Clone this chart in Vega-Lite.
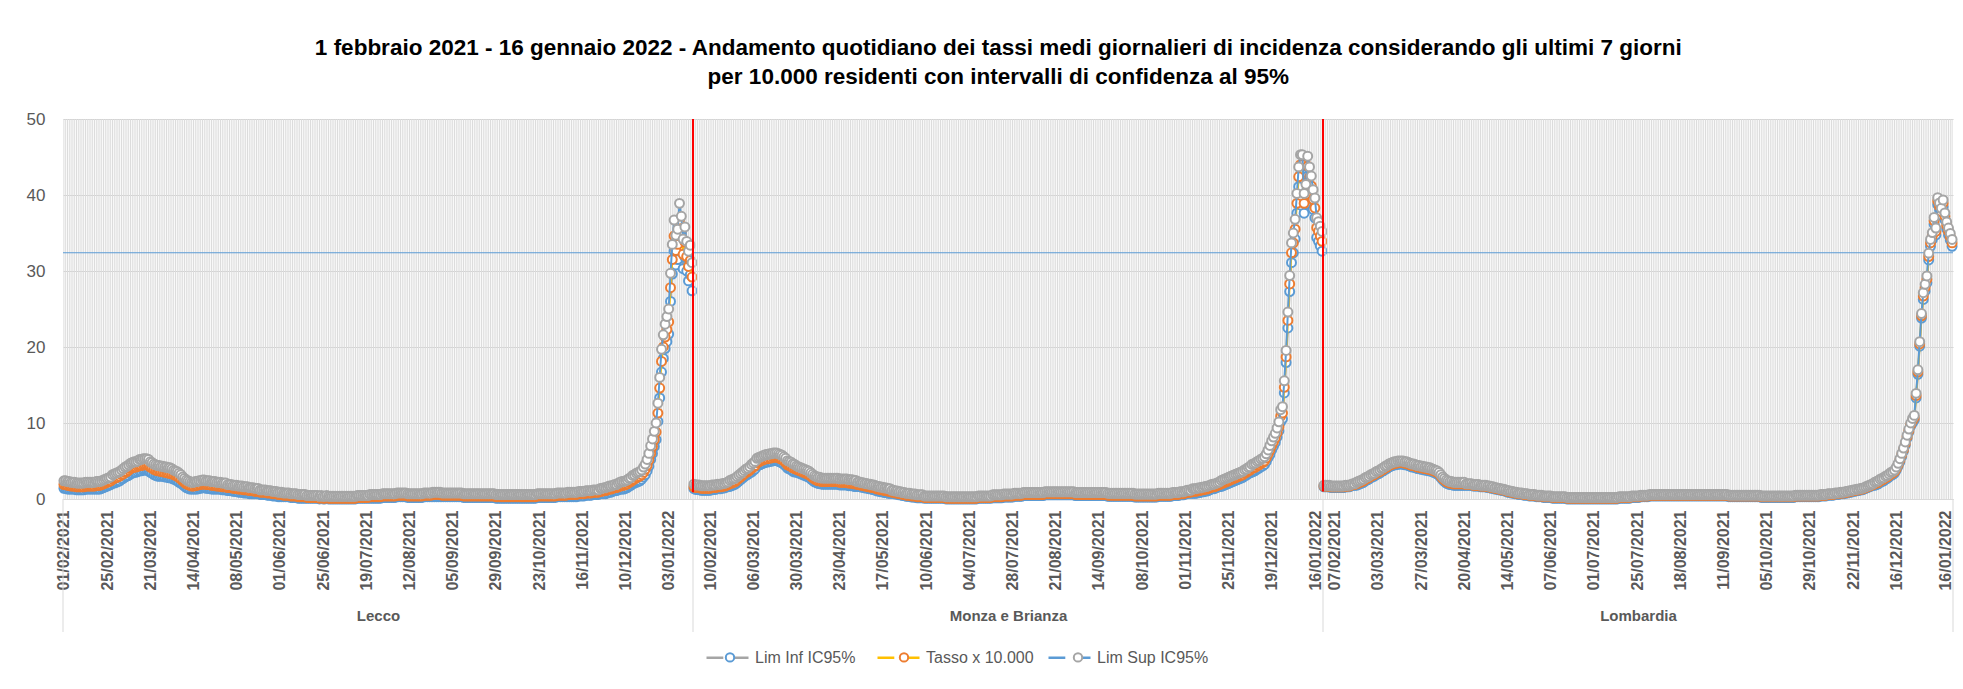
{
"$schema":"https://vega.github.io/schema/vega-lite/v6.json",
"padding":{"left":26,"top":36,"right":5,"bottom":5},
"background":"#ffffff",
"title":{"text":["1 febbraio 2021 - 16 gennaio 2022 - Andamento quotidiano dei tassi medi giornalieri di incidenza considerando gli ultimi 7 giorni","per 10.000 residenti con intervalli di confidenza al 95%"],"font":"Liberation Sans","fontSize":22.5,"fontWeight":"bold","color":"#000000","lineHeight":29,"anchor":"middle","offset":22,"dx":5},
"spacing":0,
"bounds":"flush",
"datasets":{
"lecco":[{"n":1,"l":1.4,"v":1.9,"h":2.4},{"n":2,"l":1.4,"v":1.9,"h":2.4},{"n":3,"l":1.3,"v":1.8,"h":2.3},{"n":4,"l":1.3,"v":1.8,"h":2.3},{"n":5,"l":1.3,"v":1.7,"h":2.2},{"n":6,"l":1.3,"v":1.7,"h":2.2},{"n":7,"l":1.3,"v":1.7,"h":2.2},{"n":8,"l":1.2,"v":1.6,"h":2.1},{"n":9,"l":1.2,"v":1.6,"h":2.1},{"n":10,"l":1.2,"v":1.6,"h":2.1},{"n":11,"l":1.2,"v":1.6,"h":2.1},{"n":12,"l":1.2,"v":1.6,"h":2.1},{"n":13,"l":1.3,"v":1.7,"h":2.2},{"n":14,"l":1.3,"v":1.7,"h":2.2},{"n":15,"l":1.3,"v":1.7,"h":2.2},{"n":16,"l":1.3,"v":1.7,"h":2.2},{"n":17,"l":1.3,"v":1.7,"h":2.2},{"n":18,"l":1.3,"v":1.7,"h":2.2},{"n":19,"l":1.3,"v":1.8,"h":2.3},{"n":20,"l":1.3,"v":1.8,"h":2.3},{"n":21,"l":1.3,"v":1.8,"h":2.3},{"n":22,"l":1.4,"v":1.9,"h":2.4},{"n":23,"l":1.5,"v":2.0,"h":2.5},{"n":24,"l":1.6,"v":2.1,"h":2.6},{"n":25,"l":1.7,"v":2.2,"h":2.7},{"n":26,"l":1.8,"v":2.3,"h":2.8},{"n":27,"l":1.9,"v":2.4,"h":2.9},{"n":28,"l":2.1,"v":2.6,"h":3.2},{"n":29,"l":2.1,"v":2.7,"h":3.3},{"n":30,"l":2.2,"v":2.8,"h":3.4},{"n":31,"l":2.3,"v":2.9,"h":3.5},{"n":32,"l":2.4,"v":3.0,"h":3.6},{"n":33,"l":2.6,"v":3.2,"h":3.8},{"n":34,"l":2.7,"v":3.3,"h":4.0},{"n":35,"l":2.9,"v":3.5,"h":4.2},{"n":36,"l":3.0,"v":3.6,"h":4.3},{"n":37,"l":3.1,"v":3.8,"h":4.5},{"n":38,"l":3.3,"v":4.0,"h":4.7},{"n":39,"l":3.4,"v":4.1,"h":4.8},{"n":40,"l":3.5,"v":4.2,"h":4.9},{"n":41,"l":3.5,"v":4.2,"h":4.9},{"n":42,"l":3.6,"v":4.3,"h":5.0},{"n":43,"l":3.7,"v":4.4,"h":5.2},{"n":44,"l":3.7,"v":4.4,"h":5.2},{"n":45,"l":3.8,"v":4.5,"h":5.3},{"n":46,"l":3.8,"v":4.5,"h":5.3},{"n":47,"l":3.8,"v":4.5,"h":5.3},{"n":48,"l":3.7,"v":4.4,"h":5.2},{"n":49,"l":3.5,"v":4.2,"h":4.9},{"n":50,"l":3.4,"v":4.1,"h":4.8},{"n":51,"l":3.2,"v":3.9,"h":4.6},{"n":52,"l":3.1,"v":3.8,"h":4.5},{"n":53,"l":3.0,"v":3.7,"h":4.4},{"n":54,"l":3.0,"v":3.7,"h":4.4},{"n":55,"l":3.0,"v":3.6,"h":4.3},{"n":56,"l":3.0,"v":3.6,"h":4.3},{"n":57,"l":2.9,"v":3.5,"h":4.2},{"n":58,"l":2.9,"v":3.5,"h":4.2},{"n":59,"l":2.8,"v":3.4,"h":4.1},{"n":60,"l":2.8,"v":3.4,"h":4.1},{"n":61,"l":2.7,"v":3.3,"h":4.0},{"n":62,"l":2.6,"v":3.2,"h":3.8},{"n":63,"l":2.5,"v":3.1,"h":3.7},{"n":64,"l":2.4,"v":3.0,"h":3.6},{"n":65,"l":2.2,"v":2.8,"h":3.4},{"n":66,"l":2.1,"v":2.6,"h":3.2},{"n":67,"l":1.9,"v":2.4,"h":2.9},{"n":68,"l":1.7,"v":2.2,"h":2.7},{"n":69,"l":1.5,"v":2.0,"h":2.5},{"n":70,"l":1.4,"v":1.9,"h":2.4},{"n":71,"l":1.3,"v":1.8,"h":2.3},{"n":72,"l":1.3,"v":1.7,"h":2.2},{"n":73,"l":1.3,"v":1.7,"h":2.2},{"n":74,"l":1.3,"v":1.8,"h":2.3},{"n":75,"l":1.3,"v":1.8,"h":2.3},{"n":76,"l":1.4,"v":1.9,"h":2.4},{"n":77,"l":1.4,"v":1.9,"h":2.4},{"n":78,"l":1.5,"v":2.0,"h":2.5},{"n":79,"l":1.5,"v":2.0,"h":2.5},{"n":80,"l":1.4,"v":1.9,"h":2.4},{"n":81,"l":1.4,"v":1.9,"h":2.4},{"n":82,"l":1.4,"v":1.9,"h":2.4},{"n":83,"l":1.3,"v":1.8,"h":2.3},{"n":84,"l":1.3,"v":1.8,"h":2.3},{"n":85,"l":1.3,"v":1.8,"h":2.3},{"n":86,"l":1.3,"v":1.7,"h":2.2},{"n":87,"l":1.3,"v":1.7,"h":2.2},{"n":88,"l":1.3,"v":1.7,"h":2.2},{"n":89,"l":1.2,"v":1.6,"h":2.1},{"n":90,"l":1.2,"v":1.6,"h":2.1},{"n":91,"l":1.2,"v":1.6,"h":2.1},{"n":92,"l":1.1,"v":1.5,"h":1.9},{"n":93,"l":1.1,"v":1.5,"h":1.9},{"n":94,"l":1.1,"v":1.5,"h":1.9},{"n":95,"l":1.0,"v":1.4,"h":1.8},{"n":96,"l":1.0,"v":1.4,"h":1.8},{"n":97,"l":1.0,"v":1.4,"h":1.8},{"n":98,"l":0.9,"v":1.3,"h":1.7},{"n":99,"l":0.9,"v":1.3,"h":1.7},{"n":100,"l":0.9,"v":1.3,"h":1.7},{"n":101,"l":0.8,"v":1.2,"h":1.6},{"n":102,"l":0.8,"v":1.2,"h":1.6},{"n":103,"l":0.8,"v":1.2,"h":1.6},{"n":104,"l":0.7,"v":1.1,"h":1.5},{"n":105,"l":0.7,"v":1.1,"h":1.5},{"n":106,"l":0.7,"v":1.1,"h":1.5},{"n":107,"l":0.7,"v":1.0,"h":1.4},{"n":108,"l":0.7,"v":1.0,"h":1.4},{"n":109,"l":0.7,"v":1.0,"h":1.4},{"n":110,"l":0.6,"v":0.9,"h":1.2},{"n":111,"l":0.6,"v":0.9,"h":1.2},{"n":112,"l":0.6,"v":0.9,"h":1.2},{"n":113,"l":0.6,"v":0.9,"h":1.2},{"n":114,"l":0.5,"v":0.8,"h":1.1},{"n":115,"l":0.5,"v":0.8,"h":1.1},{"n":116,"l":0.5,"v":0.8,"h":1.1},{"n":117,"l":0.4,"v":0.7,"h":1.0},{"n":118,"l":0.4,"v":0.7,"h":1.0},{"n":119,"l":0.4,"v":0.7,"h":1.0},{"n":120,"l":0.3,"v":0.6,"h":0.9},{"n":121,"l":0.3,"v":0.6,"h":0.9},{"n":122,"l":0.3,"v":0.6,"h":0.9},{"n":123,"l":0.3,"v":0.5,"h":0.8},{"n":124,"l":0.3,"v":0.5,"h":0.8},{"n":125,"l":0.3,"v":0.5,"h":0.8},{"n":126,"l":0.3,"v":0.5,"h":0.8},{"n":127,"l":0.2,"v":0.4,"h":0.7},{"n":128,"l":0.2,"v":0.4,"h":0.7},{"n":129,"l":0.2,"v":0.4,"h":0.7},{"n":130,"l":0.2,"v":0.4,"h":0.7},{"n":131,"l":0.1,"v":0.3,"h":0.6},{"n":132,"l":0.1,"v":0.3,"h":0.6},{"n":133,"l":0.1,"v":0.3,"h":0.6},{"n":134,"l":0.1,"v":0.3,"h":0.6},{"n":135,"l":0.1,"v":0.3,"h":0.6},{"n":136,"l":0.1,"v":0.2,"h":0.45},{"n":137,"l":0.1,"v":0.2,"h":0.45},{"n":138,"l":0.1,"v":0.2,"h":0.45},{"n":139,"l":0.1,"v":0.2,"h":0.45},{"n":140,"l":0.1,"v":0.2,"h":0.45},{"n":141,"l":0.1,"v":0.2,"h":0.45},{"n":142,"l":0.1,"v":0.2,"h":0.45},{"n":143,"l":0.0,"v":0.1,"h":0.35},{"n":144,"l":0.1,"v":0.2,"h":0.45},{"n":145,"l":0.0,"v":0.1,"h":0.35},{"n":146,"l":0.0,"v":0.1,"h":0.35},{"n":147,"l":0.1,"v":0.2,"h":0.45},{"n":148,"l":0.0,"v":0.1,"h":0.35},{"n":149,"l":0.0,"v":0.1,"h":0.35},{"n":150,"l":0.0,"v":0.1,"h":0.35},{"n":151,"l":0.0,"v":0.1,"h":0.35},{"n":152,"l":0.0,"v":0.1,"h":0.35},{"n":153,"l":0.0,"v":0.1,"h":0.35},{"n":154,"l":0.0,"v":0.1,"h":0.35},{"n":155,"l":0.0,"v":0.1,"h":0.35},{"n":156,"l":0.0,"v":0.1,"h":0.35},{"n":157,"l":0.0,"v":0.1,"h":0.35},{"n":158,"l":0.0,"v":0.1,"h":0.35},{"n":159,"l":0.0,"v":0.1,"h":0.35},{"n":160,"l":0.0,"v":0.1,"h":0.35},{"n":161,"l":0.0,"v":0.1,"h":0.35},{"n":162,"l":0.0,"v":0.1,"h":0.35},{"n":163,"l":0.0,"v":0.1,"h":0.35},{"n":164,"l":0.1,"v":0.2,"h":0.45},{"n":165,"l":0.1,"v":0.2,"h":0.45},{"n":166,"l":0.1,"v":0.2,"h":0.45},{"n":167,"l":0.1,"v":0.2,"h":0.45},{"n":168,"l":0.1,"v":0.2,"h":0.45},{"n":169,"l":0.1,"v":0.2,"h":0.45},{"n":170,"l":0.1,"v":0.2,"h":0.45},{"n":171,"l":0.1,"v":0.3,"h":0.6},{"n":172,"l":0.1,"v":0.3,"h":0.6},{"n":173,"l":0.1,"v":0.3,"h":0.6},{"n":174,"l":0.1,"v":0.3,"h":0.6},{"n":175,"l":0.1,"v":0.3,"h":0.6},{"n":176,"l":0.1,"v":0.3,"h":0.6},{"n":177,"l":0.1,"v":0.3,"h":0.6},{"n":178,"l":0.2,"v":0.4,"h":0.7},{"n":179,"l":0.2,"v":0.4,"h":0.7},{"n":180,"l":0.2,"v":0.4,"h":0.7},{"n":181,"l":0.2,"v":0.4,"h":0.7},{"n":182,"l":0.2,"v":0.4,"h":0.7},{"n":183,"l":0.2,"v":0.4,"h":0.7},{"n":184,"l":0.2,"v":0.4,"h":0.7},{"n":185,"l":0.2,"v":0.4,"h":0.7},{"n":186,"l":0.3,"v":0.5,"h":0.8},{"n":187,"l":0.3,"v":0.5,"h":0.8},{"n":188,"l":0.3,"v":0.5,"h":0.8},{"n":189,"l":0.3,"v":0.5,"h":0.8},{"n":190,"l":0.3,"v":0.5,"h":0.8},{"n":191,"l":0.3,"v":0.5,"h":0.8},{"n":192,"l":0.2,"v":0.4,"h":0.7},{"n":193,"l":0.2,"v":0.4,"h":0.7},{"n":194,"l":0.2,"v":0.4,"h":0.7},{"n":195,"l":0.2,"v":0.4,"h":0.7},{"n":196,"l":0.2,"v":0.4,"h":0.7},{"n":197,"l":0.2,"v":0.4,"h":0.7},{"n":198,"l":0.2,"v":0.4,"h":0.7},{"n":199,"l":0.2,"v":0.4,"h":0.7},{"n":200,"l":0.2,"v":0.4,"h":0.7},{"n":201,"l":0.3,"v":0.5,"h":0.8},{"n":202,"l":0.3,"v":0.5,"h":0.8},{"n":203,"l":0.3,"v":0.5,"h":0.8},{"n":204,"l":0.3,"v":0.5,"h":0.8},{"n":205,"l":0.3,"v":0.5,"h":0.8},{"n":206,"l":0.3,"v":0.6,"h":0.9},{"n":207,"l":0.3,"v":0.6,"h":0.9},{"n":208,"l":0.3,"v":0.6,"h":0.9},{"n":209,"l":0.3,"v":0.6,"h":0.9},{"n":210,"l":0.3,"v":0.6,"h":0.9},{"n":211,"l":0.3,"v":0.5,"h":0.8},{"n":212,"l":0.3,"v":0.5,"h":0.8},{"n":213,"l":0.3,"v":0.5,"h":0.8},{"n":214,"l":0.3,"v":0.5,"h":0.8},{"n":215,"l":0.3,"v":0.5,"h":0.8},{"n":216,"l":0.3,"v":0.5,"h":0.8},{"n":217,"l":0.3,"v":0.5,"h":0.8},{"n":218,"l":0.3,"v":0.5,"h":0.8},{"n":219,"l":0.3,"v":0.5,"h":0.8},{"n":220,"l":0.3,"v":0.5,"h":0.8},{"n":221,"l":0.3,"v":0.5,"h":0.8},{"n":222,"l":0.3,"v":0.5,"h":0.8},{"n":223,"l":0.2,"v":0.4,"h":0.7},{"n":224,"l":0.2,"v":0.4,"h":0.7},{"n":225,"l":0.2,"v":0.4,"h":0.7},{"n":226,"l":0.2,"v":0.4,"h":0.7},{"n":227,"l":0.2,"v":0.4,"h":0.7},{"n":228,"l":0.2,"v":0.4,"h":0.7},{"n":229,"l":0.2,"v":0.4,"h":0.7},{"n":230,"l":0.2,"v":0.4,"h":0.7},{"n":231,"l":0.2,"v":0.4,"h":0.7},{"n":232,"l":0.2,"v":0.4,"h":0.7},{"n":233,"l":0.2,"v":0.4,"h":0.7},{"n":234,"l":0.2,"v":0.4,"h":0.7},{"n":235,"l":0.2,"v":0.4,"h":0.7},{"n":236,"l":0.2,"v":0.4,"h":0.7},{"n":237,"l":0.2,"v":0.4,"h":0.7},{"n":238,"l":0.2,"v":0.4,"h":0.7},{"n":239,"l":0.2,"v":0.4,"h":0.7},{"n":240,"l":0.2,"v":0.4,"h":0.7},{"n":241,"l":0.1,"v":0.3,"h":0.6},{"n":242,"l":0.1,"v":0.3,"h":0.6},{"n":243,"l":0.1,"v":0.3,"h":0.6},{"n":244,"l":0.1,"v":0.3,"h":0.6},{"n":245,"l":0.1,"v":0.3,"h":0.6},{"n":246,"l":0.1,"v":0.3,"h":0.6},{"n":247,"l":0.1,"v":0.3,"h":0.6},{"n":248,"l":0.1,"v":0.3,"h":0.6},{"n":249,"l":0.1,"v":0.3,"h":0.6},{"n":250,"l":0.1,"v":0.3,"h":0.6},{"n":251,"l":0.1,"v":0.3,"h":0.6},{"n":252,"l":0.1,"v":0.3,"h":0.6},{"n":253,"l":0.1,"v":0.3,"h":0.6},{"n":254,"l":0.1,"v":0.3,"h":0.6},{"n":255,"l":0.1,"v":0.3,"h":0.6},{"n":256,"l":0.1,"v":0.3,"h":0.6},{"n":257,"l":0.1,"v":0.3,"h":0.6},{"n":258,"l":0.1,"v":0.3,"h":0.6},{"n":259,"l":0.1,"v":0.3,"h":0.6},{"n":260,"l":0.1,"v":0.3,"h":0.6},{"n":261,"l":0.1,"v":0.3,"h":0.6},{"n":262,"l":0.1,"v":0.3,"h":0.6},{"n":263,"l":0.1,"v":0.3,"h":0.6},{"n":264,"l":0.2,"v":0.4,"h":0.7},{"n":265,"l":0.2,"v":0.4,"h":0.7},{"n":266,"l":0.2,"v":0.4,"h":0.7},{"n":267,"l":0.2,"v":0.4,"h":0.7},{"n":268,"l":0.2,"v":0.4,"h":0.7},{"n":269,"l":0.2,"v":0.4,"h":0.7},{"n":270,"l":0.2,"v":0.4,"h":0.7},{"n":271,"l":0.2,"v":0.4,"h":0.7},{"n":272,"l":0.2,"v":0.4,"h":0.7},{"n":273,"l":0.2,"v":0.4,"h":0.7},{"n":274,"l":0.2,"v":0.4,"h":0.7},{"n":275,"l":0.3,"v":0.5,"h":0.8},{"n":276,"l":0.3,"v":0.5,"h":0.8},{"n":277,"l":0.3,"v":0.5,"h":0.8},{"n":278,"l":0.3,"v":0.5,"h":0.8},{"n":279,"l":0.3,"v":0.5,"h":0.8},{"n":280,"l":0.3,"v":0.5,"h":0.8},{"n":281,"l":0.3,"v":0.6,"h":0.9},{"n":282,"l":0.3,"v":0.6,"h":0.9},{"n":283,"l":0.3,"v":0.6,"h":0.9},{"n":284,"l":0.3,"v":0.6,"h":0.9},{"n":285,"l":0.3,"v":0.6,"h":0.9},{"n":286,"l":0.3,"v":0.6,"h":0.9},{"n":287,"l":0.4,"v":0.7,"h":1.0},{"n":288,"l":0.4,"v":0.7,"h":1.0},{"n":289,"l":0.4,"v":0.7,"h":1.0},{"n":290,"l":0.4,"v":0.7,"h":1.0},{"n":291,"l":0.5,"v":0.8,"h":1.1},{"n":292,"l":0.5,"v":0.8,"h":1.1},{"n":293,"l":0.5,"v":0.8,"h":1.1},{"n":294,"l":0.5,"v":0.8,"h":1.1},{"n":295,"l":0.6,"v":0.9,"h":1.2},{"n":296,"l":0.6,"v":0.9,"h":1.2},{"n":297,"l":0.6,"v":0.9,"h":1.2},{"n":298,"l":0.6,"v":0.9,"h":1.2},{"n":299,"l":0.7,"v":1.0,"h":1.4},{"n":300,"l":0.7,"v":1.0,"h":1.4},{"n":301,"l":0.7,"v":1.1,"h":1.5},{"n":302,"l":0.7,"v":1.1,"h":1.5},{"n":303,"l":0.8,"v":1.2,"h":1.6},{"n":304,"l":0.9,"v":1.3,"h":1.7},{"n":305,"l":0.9,"v":1.3,"h":1.7},{"n":306,"l":1.0,"v":1.4,"h":1.8},{"n":307,"l":1.1,"v":1.5,"h":1.9},{"n":308,"l":1.1,"v":1.5,"h":1.9},{"n":309,"l":1.2,"v":1.6,"h":2.1},{"n":310,"l":1.3,"v":1.7,"h":2.2},{"n":311,"l":1.3,"v":1.8,"h":2.3},{"n":312,"l":1.3,"v":1.8,"h":2.3},{"n":313,"l":1.4,"v":1.9,"h":2.4},{"n":314,"l":1.5,"v":2.0,"h":2.5},{"n":315,"l":1.7,"v":2.2,"h":2.7},{"n":316,"l":1.8,"v":2.3,"h":2.8},{"n":317,"l":2.0,"v":2.5,"h":3.1},{"n":318,"l":2.1,"v":2.6,"h":3.2},{"n":319,"l":2.2,"v":2.8,"h":3.4},{"n":320,"l":2.3,"v":2.9,"h":3.5},{"n":321,"l":2.4,"v":3.0,"h":3.6},{"n":322,"l":2.6,"v":3.2,"h":3.8},{"n":323,"l":2.9,"v":3.5,"h":4.2},{"n":324,"l":3.2,"v":3.9,"h":4.6},{"n":325,"l":3.7,"v":4.4,"h":5.2},{"n":326,"l":4.3,"v":5.1,"h":6.0},{"n":327,"l":5.2,"v":6.0,"h":7.0},{"n":328,"l":6.0,"v":6.9,"h":7.9},{"n":329,"l":6.9,"v":7.8,"h":8.9},{"n":330,"l":7.8,"v":8.8,"h":10.0},{"n":331,"l":10.2,"v":11.3,"h":12.6},{"n":332,"l":13.3,"v":14.6,"h":16.0},{"n":333,"l":16.7,"v":18.1,"h":19.7},{"n":334,"l":18.5,"v":20.0,"h":21.6},{"n":335,"l":19.8,"v":21.3,"h":23.0},{"n":336,"l":20.7,"v":22.3,"h":24.0},{"n":337,"l":21.7,"v":23.3,"h":25.0},{"n":338,"l":26.0,"v":27.8,"h":29.7},{"n":339,"l":29.6,"v":31.5,"h":33.5},{"n":340,"l":32.6,"v":34.6,"h":36.7},{"n":341,"l":30.8,"v":32.7,"h":34.7},{"n":342,"l":31.5,"v":33.5,"h":35.5},{"n":343,"l":34.6,"v":36.7,"h":38.9},{"n":344,"l":33.1,"v":35.1,"h":37.2},{"n":345,"l":30.3,"v":32.2,"h":34.2},{"n":346,"l":31.8,"v":33.8,"h":35.8},{"n":347,"l":30.0,"v":31.9,"h":33.9},{"n":348,"l":28.7,"v":30.6,"h":32.6},{"n":349,"l":29.5,"v":31.4,"h":33.4},{"n":350,"l":27.4,"v":29.2,"h":31.1}],
"monza":[{"n":1,"l":1.35,"v":1.6,"h":1.95},{"n":2,"l":1.25,"v":1.5,"h":1.85},{"n":3,"l":1.25,"v":1.5,"h":1.85},{"n":4,"l":1.25,"v":1.5,"h":1.85},{"n":5,"l":1.15,"v":1.4,"h":1.75},{"n":6,"l":1.15,"v":1.4,"h":1.75},{"n":7,"l":1.15,"v":1.4,"h":1.75},{"n":8,"l":1.15,"v":1.4,"h":1.75},{"n":9,"l":1.15,"v":1.4,"h":1.75},{"n":10,"l":1.15,"v":1.4,"h":1.75},{"n":11,"l":1.25,"v":1.5,"h":1.85},{"n":12,"l":1.25,"v":1.5,"h":1.85},{"n":13,"l":1.25,"v":1.5,"h":1.85},{"n":14,"l":1.35,"v":1.6,"h":1.95},{"n":15,"l":1.35,"v":1.6,"h":1.95},{"n":16,"l":1.35,"v":1.6,"h":1.95},{"n":17,"l":1.45,"v":1.7,"h":2.05},{"n":18,"l":1.45,"v":1.7,"h":2.05},{"n":19,"l":1.55,"v":1.8,"h":2.15},{"n":20,"l":1.65,"v":1.9,"h":2.25},{"n":21,"l":1.65,"v":2.0,"h":2.45},{"n":22,"l":1.75,"v":2.1,"h":2.55},{"n":23,"l":1.85,"v":2.2,"h":2.65},{"n":24,"l":1.95,"v":2.3,"h":2.75},{"n":25,"l":2.15,"v":2.5,"h":2.95},{"n":26,"l":2.35,"v":2.7,"h":3.15},{"n":27,"l":2.55,"v":2.9,"h":3.35},{"n":28,"l":2.75,"v":3.1,"h":3.55},{"n":29,"l":2.95,"v":3.3,"h":3.75},{"n":30,"l":3.15,"v":3.5,"h":3.95},{"n":31,"l":3.25,"v":3.6,"h":4.05},{"n":32,"l":3.45,"v":3.8,"h":4.25},{"n":33,"l":3.55,"v":4.0,"h":4.55},{"n":34,"l":3.75,"v":4.2,"h":4.75},{"n":35,"l":3.95,"v":4.4,"h":4.95},{"n":36,"l":4.35,"v":4.8,"h":5.35},{"n":37,"l":4.45,"v":4.9,"h":5.45},{"n":38,"l":4.55,"v":5.0,"h":5.55},{"n":39,"l":4.65,"v":5.1,"h":5.65},{"n":40,"l":4.75,"v":5.2,"h":5.75},{"n":41,"l":4.85,"v":5.3,"h":5.85},{"n":42,"l":4.85,"v":5.3,"h":5.85},{"n":43,"l":4.95,"v":5.4,"h":5.95},{"n":44,"l":4.95,"v":5.4,"h":5.95},{"n":45,"l":5.05,"v":5.5,"h":6.05},{"n":46,"l":5.05,"v":5.5,"h":6.05},{"n":47,"l":5.05,"v":5.5,"h":6.05},{"n":48,"l":4.95,"v":5.4,"h":5.95},{"n":49,"l":4.85,"v":5.3,"h":5.85},{"n":50,"l":4.75,"v":5.2,"h":5.75},{"n":51,"l":4.55,"v":5.0,"h":5.55},{"n":52,"l":4.35,"v":4.8,"h":5.35},{"n":53,"l":4.05,"v":4.5,"h":5.05},{"n":54,"l":3.95,"v":4.4,"h":4.95},{"n":55,"l":3.85,"v":4.3,"h":4.85},{"n":56,"l":3.65,"v":4.1,"h":4.65},{"n":57,"l":3.55,"v":4.0,"h":4.55},{"n":58,"l":3.55,"v":3.9,"h":4.35},{"n":59,"l":3.45,"v":3.8,"h":4.25},{"n":60,"l":3.35,"v":3.7,"h":4.15},{"n":61,"l":3.25,"v":3.6,"h":4.05},{"n":62,"l":3.15,"v":3.5,"h":3.95},{"n":63,"l":3.05,"v":3.4,"h":3.85},{"n":64,"l":2.95,"v":3.3,"h":3.75},{"n":65,"l":2.85,"v":3.2,"h":3.65},{"n":66,"l":2.65,"v":3.0,"h":3.45},{"n":67,"l":2.45,"v":2.8,"h":3.25},{"n":68,"l":2.25,"v":2.6,"h":3.05},{"n":69,"l":2.15,"v":2.5,"h":2.95},{"n":70,"l":2.05,"v":2.4,"h":2.85},{"n":71,"l":2.05,"v":2.4,"h":2.85},{"n":72,"l":1.95,"v":2.3,"h":2.75},{"n":73,"l":1.95,"v":2.3,"h":2.75},{"n":74,"l":1.95,"v":2.3,"h":2.75},{"n":75,"l":1.95,"v":2.3,"h":2.75},{"n":76,"l":1.95,"v":2.3,"h":2.75},{"n":77,"l":1.95,"v":2.3,"h":2.75},{"n":78,"l":1.95,"v":2.3,"h":2.75},{"n":79,"l":1.95,"v":2.3,"h":2.75},{"n":80,"l":1.95,"v":2.3,"h":2.75},{"n":81,"l":1.95,"v":2.3,"h":2.75},{"n":82,"l":1.85,"v":2.2,"h":2.65},{"n":83,"l":1.85,"v":2.2,"h":2.65},{"n":84,"l":1.85,"v":2.2,"h":2.65},{"n":85,"l":1.85,"v":2.2,"h":2.65},{"n":86,"l":1.85,"v":2.2,"h":2.65},{"n":87,"l":1.75,"v":2.1,"h":2.55},{"n":88,"l":1.75,"v":2.1,"h":2.55},{"n":89,"l":1.75,"v":2.1,"h":2.55},{"n":90,"l":1.65,"v":2.0,"h":2.45},{"n":91,"l":1.65,"v":2.0,"h":2.45},{"n":92,"l":1.65,"v":1.9,"h":2.25},{"n":93,"l":1.65,"v":1.9,"h":2.25},{"n":94,"l":1.55,"v":1.8,"h":2.15},{"n":95,"l":1.55,"v":1.8,"h":2.15},{"n":96,"l":1.45,"v":1.7,"h":2.05},{"n":97,"l":1.45,"v":1.7,"h":2.05},{"n":98,"l":1.35,"v":1.6,"h":1.95},{"n":99,"l":1.35,"v":1.6,"h":1.95},{"n":100,"l":1.25,"v":1.5,"h":1.85},{"n":101,"l":1.25,"v":1.5,"h":1.85},{"n":102,"l":1.15,"v":1.4,"h":1.75},{"n":103,"l":1.05,"v":1.3,"h":1.65},{"n":104,"l":1.05,"v":1.3,"h":1.65},{"n":105,"l":0.95,"v":1.2,"h":1.55},{"n":106,"l":0.95,"v":1.2,"h":1.55},{"n":107,"l":0.85,"v":1.1,"h":1.45},{"n":108,"l":0.85,"v":1.1,"h":1.45},{"n":109,"l":0.75,"v":1.0,"h":1.35},{"n":110,"l":0.75,"v":1.0,"h":1.35},{"n":111,"l":0.75,"v":0.9,"h":1.15},{"n":112,"l":0.75,"v":0.9,"h":1.15},{"n":113,"l":0.65,"v":0.8,"h":1.05},{"n":114,"l":0.65,"v":0.8,"h":1.05},{"n":115,"l":0.55,"v":0.7,"h":0.95},{"n":116,"l":0.55,"v":0.7,"h":0.95},{"n":117,"l":0.45,"v":0.6,"h":0.85},{"n":118,"l":0.45,"v":0.6,"h":0.85},{"n":119,"l":0.35,"v":0.5,"h":0.75},{"n":120,"l":0.35,"v":0.5,"h":0.75},{"n":121,"l":0.35,"v":0.5,"h":0.75},{"n":122,"l":0.25,"v":0.4,"h":0.65},{"n":123,"l":0.25,"v":0.4,"h":0.65},{"n":124,"l":0.25,"v":0.4,"h":0.65},{"n":125,"l":0.15,"v":0.3,"h":0.55},{"n":126,"l":0.15,"v":0.3,"h":0.55},{"n":127,"l":0.15,"v":0.3,"h":0.55},{"n":128,"l":0.15,"v":0.3,"h":0.55},{"n":129,"l":0.1,"v":0.2,"h":0.4},{"n":130,"l":0.1,"v":0.2,"h":0.4},{"n":131,"l":0.1,"v":0.2,"h":0.4},{"n":132,"l":0.1,"v":0.2,"h":0.4},{"n":133,"l":0.1,"v":0.2,"h":0.4},{"n":134,"l":0.1,"v":0.2,"h":0.4},{"n":135,"l":0.1,"v":0.2,"h":0.4},{"n":136,"l":0.1,"v":0.2,"h":0.4},{"n":137,"l":0.1,"v":0.2,"h":0.4},{"n":138,"l":0.1,"v":0.2,"h":0.4},{"n":139,"l":0.1,"v":0.2,"h":0.4},{"n":140,"l":0.1,"v":0.2,"h":0.4},{"n":141,"l":0.0,"v":0.1,"h":0.3},{"n":142,"l":0.0,"v":0.1,"h":0.3},{"n":143,"l":0.0,"v":0.1,"h":0.3},{"n":144,"l":0.0,"v":0.1,"h":0.3},{"n":145,"l":0.0,"v":0.1,"h":0.3},{"n":146,"l":0.0,"v":0.1,"h":0.3},{"n":147,"l":0.0,"v":0.1,"h":0.3},{"n":148,"l":0.0,"v":0.1,"h":0.3},{"n":149,"l":0.0,"v":0.1,"h":0.3},{"n":150,"l":0.0,"v":0.1,"h":0.3},{"n":151,"l":0.0,"v":0.1,"h":0.3},{"n":152,"l":0.0,"v":0.1,"h":0.3},{"n":153,"l":0.0,"v":0.1,"h":0.3},{"n":154,"l":0.0,"v":0.1,"h":0.3},{"n":155,"l":0.0,"v":0.1,"h":0.3},{"n":156,"l":0.0,"v":0.1,"h":0.3},{"n":157,"l":0.0,"v":0.1,"h":0.3},{"n":158,"l":0.0,"v":0.1,"h":0.3},{"n":159,"l":0.1,"v":0.2,"h":0.4},{"n":160,"l":0.1,"v":0.2,"h":0.4},{"n":161,"l":0.1,"v":0.2,"h":0.4},{"n":162,"l":0.1,"v":0.2,"h":0.4},{"n":163,"l":0.1,"v":0.2,"h":0.4},{"n":164,"l":0.1,"v":0.2,"h":0.4},{"n":165,"l":0.1,"v":0.2,"h":0.4},{"n":166,"l":0.1,"v":0.2,"h":0.4},{"n":167,"l":0.15,"v":0.3,"h":0.55},{"n":168,"l":0.15,"v":0.3,"h":0.55},{"n":169,"l":0.15,"v":0.3,"h":0.55},{"n":170,"l":0.15,"v":0.3,"h":0.55},{"n":171,"l":0.15,"v":0.3,"h":0.55},{"n":172,"l":0.15,"v":0.3,"h":0.55},{"n":173,"l":0.25,"v":0.4,"h":0.65},{"n":174,"l":0.25,"v":0.4,"h":0.65},{"n":175,"l":0.25,"v":0.4,"h":0.65},{"n":176,"l":0.25,"v":0.4,"h":0.65},{"n":177,"l":0.25,"v":0.4,"h":0.65},{"n":178,"l":0.25,"v":0.4,"h":0.65},{"n":179,"l":0.35,"v":0.5,"h":0.75},{"n":180,"l":0.35,"v":0.5,"h":0.75},{"n":181,"l":0.35,"v":0.5,"h":0.75},{"n":182,"l":0.35,"v":0.5,"h":0.75},{"n":183,"l":0.35,"v":0.5,"h":0.75},{"n":184,"l":0.45,"v":0.6,"h":0.85},{"n":185,"l":0.45,"v":0.6,"h":0.85},{"n":186,"l":0.45,"v":0.6,"h":0.85},{"n":187,"l":0.45,"v":0.6,"h":0.85},{"n":188,"l":0.45,"v":0.6,"h":0.85},{"n":189,"l":0.45,"v":0.6,"h":0.85},{"n":190,"l":0.45,"v":0.6,"h":0.85},{"n":191,"l":0.45,"v":0.6,"h":0.85},{"n":192,"l":0.45,"v":0.6,"h":0.85},{"n":193,"l":0.45,"v":0.6,"h":0.85},{"n":194,"l":0.45,"v":0.6,"h":0.85},{"n":195,"l":0.45,"v":0.6,"h":0.85},{"n":196,"l":0.55,"v":0.7,"h":0.95},{"n":197,"l":0.55,"v":0.7,"h":0.95},{"n":198,"l":0.55,"v":0.7,"h":0.95},{"n":199,"l":0.55,"v":0.7,"h":0.95},{"n":200,"l":0.55,"v":0.7,"h":0.95},{"n":201,"l":0.55,"v":0.7,"h":0.95},{"n":202,"l":0.55,"v":0.7,"h":0.95},{"n":203,"l":0.55,"v":0.7,"h":0.95},{"n":204,"l":0.55,"v":0.7,"h":0.95},{"n":205,"l":0.55,"v":0.7,"h":0.95},{"n":206,"l":0.55,"v":0.7,"h":0.95},{"n":207,"l":0.55,"v":0.7,"h":0.95},{"n":208,"l":0.55,"v":0.7,"h":0.95},{"n":209,"l":0.55,"v":0.7,"h":0.95},{"n":210,"l":0.55,"v":0.7,"h":0.95},{"n":211,"l":0.55,"v":0.7,"h":0.95},{"n":212,"l":0.55,"v":0.7,"h":0.95},{"n":213,"l":0.45,"v":0.6,"h":0.85},{"n":214,"l":0.45,"v":0.6,"h":0.85},{"n":215,"l":0.45,"v":0.6,"h":0.85},{"n":216,"l":0.45,"v":0.6,"h":0.85},{"n":217,"l":0.45,"v":0.6,"h":0.85},{"n":218,"l":0.45,"v":0.6,"h":0.85},{"n":219,"l":0.45,"v":0.6,"h":0.85},{"n":220,"l":0.45,"v":0.6,"h":0.85},{"n":221,"l":0.45,"v":0.6,"h":0.85},{"n":222,"l":0.45,"v":0.6,"h":0.85},{"n":223,"l":0.45,"v":0.6,"h":0.85},{"n":224,"l":0.45,"v":0.6,"h":0.85},{"n":225,"l":0.45,"v":0.6,"h":0.85},{"n":226,"l":0.45,"v":0.6,"h":0.85},{"n":227,"l":0.45,"v":0.6,"h":0.85},{"n":228,"l":0.45,"v":0.6,"h":0.85},{"n":229,"l":0.45,"v":0.6,"h":0.85},{"n":230,"l":0.45,"v":0.6,"h":0.85},{"n":231,"l":0.35,"v":0.5,"h":0.75},{"n":232,"l":0.35,"v":0.5,"h":0.75},{"n":233,"l":0.35,"v":0.5,"h":0.75},{"n":234,"l":0.35,"v":0.5,"h":0.75},{"n":235,"l":0.35,"v":0.5,"h":0.75},{"n":236,"l":0.35,"v":0.5,"h":0.75},{"n":237,"l":0.35,"v":0.5,"h":0.75},{"n":238,"l":0.35,"v":0.5,"h":0.75},{"n":239,"l":0.35,"v":0.5,"h":0.75},{"n":240,"l":0.35,"v":0.5,"h":0.75},{"n":241,"l":0.35,"v":0.5,"h":0.75},{"n":242,"l":0.35,"v":0.5,"h":0.75},{"n":243,"l":0.35,"v":0.5,"h":0.75},{"n":244,"l":0.35,"v":0.5,"h":0.75},{"n":245,"l":0.35,"v":0.5,"h":0.75},{"n":246,"l":0.25,"v":0.4,"h":0.65},{"n":247,"l":0.25,"v":0.4,"h":0.65},{"n":248,"l":0.25,"v":0.4,"h":0.65},{"n":249,"l":0.25,"v":0.4,"h":0.65},{"n":250,"l":0.25,"v":0.4,"h":0.65},{"n":251,"l":0.25,"v":0.4,"h":0.65},{"n":252,"l":0.25,"v":0.4,"h":0.65},{"n":253,"l":0.25,"v":0.4,"h":0.65},{"n":254,"l":0.25,"v":0.4,"h":0.65},{"n":255,"l":0.25,"v":0.4,"h":0.65},{"n":256,"l":0.25,"v":0.4,"h":0.65},{"n":257,"l":0.25,"v":0.4,"h":0.65},{"n":258,"l":0.25,"v":0.4,"h":0.65},{"n":259,"l":0.35,"v":0.5,"h":0.75},{"n":260,"l":0.35,"v":0.5,"h":0.75},{"n":261,"l":0.35,"v":0.5,"h":0.75},{"n":262,"l":0.35,"v":0.5,"h":0.75},{"n":263,"l":0.35,"v":0.5,"h":0.75},{"n":264,"l":0.35,"v":0.5,"h":0.75},{"n":265,"l":0.35,"v":0.5,"h":0.75},{"n":266,"l":0.35,"v":0.5,"h":0.75},{"n":267,"l":0.45,"v":0.6,"h":0.85},{"n":268,"l":0.45,"v":0.6,"h":0.85},{"n":269,"l":0.45,"v":0.6,"h":0.85},{"n":270,"l":0.45,"v":0.6,"h":0.85},{"n":271,"l":0.55,"v":0.7,"h":0.95},{"n":272,"l":0.55,"v":0.7,"h":0.95},{"n":273,"l":0.55,"v":0.7,"h":0.95},{"n":274,"l":0.65,"v":0.8,"h":1.05},{"n":275,"l":0.75,"v":0.9,"h":1.15},{"n":276,"l":0.75,"v":0.9,"h":1.15},{"n":277,"l":0.75,"v":0.9,"h":1.15},{"n":278,"l":0.75,"v":1.0,"h":1.35},{"n":279,"l":0.75,"v":1.0,"h":1.35},{"n":280,"l":0.75,"v":1.0,"h":1.35},{"n":281,"l":0.85,"v":1.1,"h":1.45},{"n":282,"l":0.85,"v":1.1,"h":1.45},{"n":283,"l":0.95,"v":1.2,"h":1.55},{"n":284,"l":0.95,"v":1.2,"h":1.55},{"n":285,"l":1.05,"v":1.3,"h":1.65},{"n":286,"l":1.05,"v":1.3,"h":1.65},{"n":287,"l":1.15,"v":1.4,"h":1.75},{"n":288,"l":1.25,"v":1.5,"h":1.85},{"n":289,"l":1.35,"v":1.6,"h":1.95},{"n":290,"l":1.35,"v":1.6,"h":1.95},{"n":291,"l":1.45,"v":1.7,"h":2.05},{"n":292,"l":1.55,"v":1.8,"h":2.15},{"n":293,"l":1.65,"v":1.9,"h":2.25},{"n":294,"l":1.65,"v":2.0,"h":2.45},{"n":295,"l":1.75,"v":2.1,"h":2.55},{"n":296,"l":1.85,"v":2.2,"h":2.65},{"n":297,"l":1.95,"v":2.3,"h":2.75},{"n":298,"l":2.05,"v":2.4,"h":2.85},{"n":299,"l":2.15,"v":2.5,"h":2.95},{"n":300,"l":2.25,"v":2.6,"h":3.05},{"n":301,"l":2.35,"v":2.7,"h":3.15},{"n":302,"l":2.45,"v":2.8,"h":3.25},{"n":303,"l":2.55,"v":2.9,"h":3.35},{"n":304,"l":2.65,"v":3.0,"h":3.45},{"n":305,"l":2.75,"v":3.1,"h":3.55},{"n":306,"l":2.85,"v":3.2,"h":3.65},{"n":307,"l":3.05,"v":3.4,"h":3.85},{"n":308,"l":3.15,"v":3.5,"h":3.95},{"n":309,"l":3.35,"v":3.7,"h":4.15},{"n":310,"l":3.45,"v":3.8,"h":4.25},{"n":311,"l":3.55,"v":4.0,"h":4.55},{"n":312,"l":3.65,"v":4.1,"h":4.65},{"n":313,"l":3.75,"v":4.2,"h":4.75},{"n":314,"l":3.95,"v":4.4,"h":4.95},{"n":315,"l":4.05,"v":4.5,"h":5.05},{"n":316,"l":4.25,"v":4.7,"h":5.25},{"n":317,"l":4.35,"v":4.8,"h":5.35},{"n":318,"l":4.55,"v":5.0,"h":5.55},{"n":319,"l":4.95,"v":5.4,"h":5.95},{"n":320,"l":5.45,"v":5.9,"h":6.45},{"n":321,"l":5.85,"v":6.4,"h":7.05},{"n":322,"l":6.45,"v":7.0,"h":7.65},{"n":323,"l":6.95,"v":7.5,"h":8.15},{"n":324,"l":7.45,"v":8.0,"h":8.65},{"n":325,"l":8.15,"v":8.7,"h":9.35},{"n":326,"l":8.95,"v":9.5,"h":10.15},{"n":327,"l":10.15,"v":10.9,"h":11.75},{"n":328,"l":10.55,"v":11.3,"h":12.15},{"n":329,"l":13.95,"v":14.7,"h":15.55},{"n":330,"l":17.95,"v":18.7,"h":19.55},{"n":331,"l":22.5,"v":23.5,"h":24.6},{"n":332,"l":27.3,"v":28.3,"h":29.4},{"n":333,"l":31.1,"v":32.4,"h":33.7},{"n":334,"l":32.4,"v":33.7,"h":35.0},{"n":335,"l":34.2,"v":35.5,"h":36.8},{"n":336,"l":37.6,"v":38.9,"h":40.2},{"n":337,"l":41.1,"v":42.4,"h":43.7},{"n":338,"l":42.7,"v":44.0,"h":45.3},{"n":339,"l":42.7,"v":44.0,"h":45.3},{"n":340,"l":37.6,"v":38.9,"h":40.2},{"n":341,"l":38.8,"v":40.1,"h":41.4},{"n":342,"l":42.5,"v":43.8,"h":45.1},{"n":343,"l":41.1,"v":42.4,"h":43.7},{"n":344,"l":39.9,"v":41.2,"h":42.5},{"n":345,"l":38.1,"v":39.4,"h":40.7},{"n":346,"l":37.0,"v":38.3,"h":39.6},{"n":347,"l":34.4,"v":35.7,"h":37.0},{"n":348,"l":33.9,"v":35.2,"h":36.5},{"n":349,"l":33.3,"v":34.6,"h":35.9},{"n":350,"l":32.6,"v":33.9,"h":35.2}],
"lomb":[{"n":1,"l":1.6,"v":1.7,"h":1.8},{"n":2,"l":1.6,"v":1.7,"h":1.8},{"n":3,"l":1.6,"v":1.7,"h":1.8},{"n":4,"l":1.6,"v":1.7,"h":1.8},{"n":5,"l":1.5,"v":1.6,"h":1.7},{"n":6,"l":1.5,"v":1.6,"h":1.7},{"n":7,"l":1.5,"v":1.6,"h":1.7},{"n":8,"l":1.5,"v":1.6,"h":1.7},{"n":9,"l":1.5,"v":1.6,"h":1.7},{"n":10,"l":1.5,"v":1.6,"h":1.7},{"n":11,"l":1.5,"v":1.6,"h":1.7},{"n":12,"l":1.5,"v":1.6,"h":1.7},{"n":13,"l":1.6,"v":1.7,"h":1.8},{"n":14,"l":1.6,"v":1.7,"h":1.8},{"n":15,"l":1.6,"v":1.7,"h":1.8},{"n":16,"l":1.7,"v":1.8,"h":1.9},{"n":17,"l":1.8,"v":1.9,"h":2.0},{"n":18,"l":1.8,"v":1.9,"h":2.0},{"n":19,"l":1.8,"v":2.0,"h":2.2},{"n":20,"l":1.9,"v":2.1,"h":2.3},{"n":21,"l":2.0,"v":2.2,"h":2.4},{"n":22,"l":2.1,"v":2.3,"h":2.5},{"n":23,"l":2.2,"v":2.4,"h":2.6},{"n":24,"l":2.4,"v":2.6,"h":2.8},{"n":25,"l":2.5,"v":2.7,"h":2.9},{"n":26,"l":2.6,"v":2.8,"h":3.0},{"n":27,"l":2.8,"v":3.0,"h":3.2},{"n":28,"l":2.9,"v":3.1,"h":3.3},{"n":29,"l":3.0,"v":3.2,"h":3.4},{"n":30,"l":3.2,"v":3.4,"h":3.6},{"n":31,"l":3.3,"v":3.5,"h":3.7},{"n":32,"l":3.4,"v":3.6,"h":3.8},{"n":33,"l":3.6,"v":3.8,"h":4.0},{"n":34,"l":3.7,"v":3.9,"h":4.1},{"n":35,"l":3.9,"v":4.1,"h":4.3},{"n":36,"l":4.0,"v":4.2,"h":4.4},{"n":37,"l":4.2,"v":4.4,"h":4.6},{"n":38,"l":4.3,"v":4.5,"h":4.7},{"n":39,"l":4.4,"v":4.6,"h":4.8},{"n":40,"l":4.5,"v":4.7,"h":4.9},{"n":41,"l":4.5,"v":4.7,"h":4.9},{"n":42,"l":4.6,"v":4.8,"h":5.0},{"n":43,"l":4.6,"v":4.8,"h":5.0},{"n":44,"l":4.6,"v":4.8,"h":5.0},{"n":45,"l":4.6,"v":4.8,"h":5.0},{"n":46,"l":4.5,"v":4.7,"h":4.9},{"n":47,"l":4.5,"v":4.7,"h":4.9},{"n":48,"l":4.4,"v":4.6,"h":4.8},{"n":49,"l":4.3,"v":4.5,"h":4.7},{"n":50,"l":4.2,"v":4.4,"h":4.6},{"n":51,"l":4.2,"v":4.4,"h":4.6},{"n":52,"l":4.1,"v":4.3,"h":4.5},{"n":53,"l":4.0,"v":4.2,"h":4.4},{"n":54,"l":4.0,"v":4.2,"h":4.4},{"n":55,"l":3.9,"v":4.1,"h":4.3},{"n":56,"l":3.9,"v":4.1,"h":4.3},{"n":57,"l":3.8,"v":4.0,"h":4.2},{"n":58,"l":3.8,"v":4.0,"h":4.2},{"n":59,"l":3.7,"v":3.9,"h":4.1},{"n":60,"l":3.7,"v":3.9,"h":4.1},{"n":61,"l":3.6,"v":3.8,"h":4.0},{"n":62,"l":3.5,"v":3.7,"h":3.9},{"n":63,"l":3.4,"v":3.6,"h":3.8},{"n":64,"l":3.3,"v":3.5,"h":3.7},{"n":65,"l":3.1,"v":3.3,"h":3.5},{"n":66,"l":2.8,"v":3.0,"h":3.2},{"n":67,"l":2.5,"v":2.7,"h":2.9},{"n":68,"l":2.3,"v":2.5,"h":2.7},{"n":69,"l":2.1,"v":2.3,"h":2.5},{"n":70,"l":2.0,"v":2.2,"h":2.4},{"n":71,"l":1.9,"v":2.1,"h":2.3},{"n":72,"l":1.9,"v":2.1,"h":2.3},{"n":73,"l":1.8,"v":2.0,"h":2.2},{"n":74,"l":1.8,"v":2.0,"h":2.2},{"n":75,"l":1.8,"v":2.0,"h":2.2},{"n":76,"l":1.8,"v":2.0,"h":2.2},{"n":77,"l":1.8,"v":2.0,"h":2.2},{"n":78,"l":1.8,"v":2.0,"h":2.2},{"n":79,"l":1.8,"v":2.0,"h":2.2},{"n":80,"l":1.8,"v":1.9,"h":2.0},{"n":81,"l":1.8,"v":1.9,"h":2.0},{"n":82,"l":1.8,"v":1.9,"h":2.0},{"n":83,"l":1.8,"v":1.9,"h":2.0},{"n":84,"l":1.7,"v":1.8,"h":1.9},{"n":85,"l":1.7,"v":1.8,"h":1.9},{"n":86,"l":1.7,"v":1.8,"h":1.9},{"n":87,"l":1.7,"v":1.8,"h":1.9},{"n":88,"l":1.6,"v":1.7,"h":1.8},{"n":89,"l":1.6,"v":1.7,"h":1.8},{"n":90,"l":1.6,"v":1.7,"h":1.8},{"n":91,"l":1.6,"v":1.7,"h":1.8},{"n":92,"l":1.5,"v":1.6,"h":1.7},{"n":93,"l":1.5,"v":1.6,"h":1.7},{"n":94,"l":1.4,"v":1.5,"h":1.6},{"n":95,"l":1.4,"v":1.5,"h":1.6},{"n":96,"l":1.3,"v":1.4,"h":1.5},{"n":97,"l":1.3,"v":1.4,"h":1.5},{"n":98,"l":1.2,"v":1.3,"h":1.4},{"n":99,"l":1.2,"v":1.3,"h":1.4},{"n":100,"l":1.1,"v":1.2,"h":1.3},{"n":101,"l":1.1,"v":1.2,"h":1.3},{"n":102,"l":1.0,"v":1.1,"h":1.2},{"n":103,"l":0.9,"v":1.0,"h":1.1},{"n":104,"l":0.9,"v":1.0,"h":1.1},{"n":105,"l":0.8,"v":0.9,"h":1.0},{"n":106,"l":0.8,"v":0.9,"h":1.0},{"n":107,"l":0.7,"v":0.8,"h":0.9},{"n":108,"l":0.7,"v":0.8,"h":0.9},{"n":109,"l":0.6,"v":0.7,"h":0.8},{"n":110,"l":0.6,"v":0.7,"h":0.8},{"n":111,"l":0.6,"v":0.7,"h":0.8},{"n":112,"l":0.5,"v":0.6,"h":0.7},{"n":113,"l":0.5,"v":0.6,"h":0.7},{"n":114,"l":0.5,"v":0.6,"h":0.7},{"n":115,"l":0.4,"v":0.5,"h":0.6},{"n":116,"l":0.4,"v":0.5,"h":0.6},{"n":117,"l":0.4,"v":0.5,"h":0.6},{"n":118,"l":0.4,"v":0.5,"h":0.6},{"n":119,"l":0.3,"v":0.4,"h":0.5},{"n":120,"l":0.3,"v":0.4,"h":0.5},{"n":121,"l":0.3,"v":0.4,"h":0.5},{"n":122,"l":0.3,"v":0.4,"h":0.5},{"n":123,"l":0.2,"v":0.3,"h":0.4},{"n":124,"l":0.2,"v":0.3,"h":0.4},{"n":125,"l":0.2,"v":0.3,"h":0.4},{"n":126,"l":0.2,"v":0.3,"h":0.4},{"n":127,"l":0.2,"v":0.3,"h":0.4},{"n":128,"l":0.1,"v":0.2,"h":0.3},{"n":129,"l":0.1,"v":0.2,"h":0.3},{"n":130,"l":0.1,"v":0.2,"h":0.3},{"n":131,"l":0.1,"v":0.2,"h":0.3},{"n":132,"l":0.1,"v":0.2,"h":0.3},{"n":133,"l":0.1,"v":0.2,"h":0.3},{"n":134,"l":0.1,"v":0.2,"h":0.3},{"n":135,"l":0.1,"v":0.2,"h":0.3},{"n":136,"l":0.0,"v":0.1,"h":0.2},{"n":137,"l":0.0,"v":0.1,"h":0.2},{"n":138,"l":0.0,"v":0.1,"h":0.2},{"n":139,"l":0.0,"v":0.1,"h":0.2},{"n":140,"l":0.0,"v":0.1,"h":0.2},{"n":141,"l":0.0,"v":0.1,"h":0.2},{"n":142,"l":0.0,"v":0.1,"h":0.2},{"n":143,"l":0.0,"v":0.1,"h":0.2},{"n":144,"l":0.0,"v":0.1,"h":0.2},{"n":145,"l":0.0,"v":0.1,"h":0.2},{"n":146,"l":0.0,"v":0.1,"h":0.2},{"n":147,"l":0.0,"v":0.1,"h":0.2},{"n":148,"l":0.0,"v":0.1,"h":0.2},{"n":149,"l":0.0,"v":0.1,"h":0.2},{"n":150,"l":0.0,"v":0.1,"h":0.2},{"n":151,"l":0.0,"v":0.1,"h":0.2},{"n":152,"l":0.0,"v":0.1,"h":0.2},{"n":153,"l":0.0,"v":0.1,"h":0.2},{"n":154,"l":0.0,"v":0.1,"h":0.2},{"n":155,"l":0.0,"v":0.1,"h":0.2},{"n":156,"l":0.0,"v":0.1,"h":0.2},{"n":157,"l":0.0,"v":0.1,"h":0.2},{"n":158,"l":0.0,"v":0.1,"h":0.2},{"n":159,"l":0.0,"v":0.1,"h":0.2},{"n":160,"l":0.0,"v":0.1,"h":0.2},{"n":161,"l":0.0,"v":0.1,"h":0.2},{"n":162,"l":0.0,"v":0.1,"h":0.2},{"n":163,"l":0.0,"v":0.1,"h":0.2},{"n":164,"l":0.0,"v":0.1,"h":0.2},{"n":165,"l":0.1,"v":0.2,"h":0.3},{"n":166,"l":0.1,"v":0.2,"h":0.3},{"n":167,"l":0.1,"v":0.2,"h":0.3},{"n":168,"l":0.1,"v":0.2,"h":0.3},{"n":169,"l":0.1,"v":0.2,"h":0.3},{"n":170,"l":0.1,"v":0.2,"h":0.3},{"n":171,"l":0.1,"v":0.2,"h":0.3},{"n":172,"l":0.2,"v":0.3,"h":0.4},{"n":173,"l":0.2,"v":0.3,"h":0.4},{"n":174,"l":0.2,"v":0.3,"h":0.4},{"n":175,"l":0.2,"v":0.3,"h":0.4},{"n":176,"l":0.2,"v":0.3,"h":0.4},{"n":177,"l":0.3,"v":0.4,"h":0.5},{"n":178,"l":0.3,"v":0.4,"h":0.5},{"n":179,"l":0.3,"v":0.4,"h":0.5},{"n":180,"l":0.3,"v":0.4,"h":0.5},{"n":181,"l":0.3,"v":0.4,"h":0.5},{"n":182,"l":0.4,"v":0.5,"h":0.6},{"n":183,"l":0.4,"v":0.5,"h":0.6},{"n":184,"l":0.4,"v":0.5,"h":0.6},{"n":185,"l":0.4,"v":0.5,"h":0.6},{"n":186,"l":0.4,"v":0.5,"h":0.6},{"n":187,"l":0.4,"v":0.5,"h":0.6},{"n":188,"l":0.4,"v":0.5,"h":0.6},{"n":189,"l":0.4,"v":0.5,"h":0.6},{"n":190,"l":0.4,"v":0.5,"h":0.6},{"n":191,"l":0.4,"v":0.5,"h":0.6},{"n":192,"l":0.4,"v":0.5,"h":0.6},{"n":193,"l":0.4,"v":0.5,"h":0.6},{"n":194,"l":0.4,"v":0.5,"h":0.6},{"n":195,"l":0.4,"v":0.5,"h":0.6},{"n":196,"l":0.4,"v":0.5,"h":0.6},{"n":197,"l":0.4,"v":0.5,"h":0.6},{"n":198,"l":0.4,"v":0.5,"h":0.6},{"n":199,"l":0.4,"v":0.5,"h":0.6},{"n":200,"l":0.4,"v":0.5,"h":0.6},{"n":201,"l":0.4,"v":0.5,"h":0.6},{"n":202,"l":0.4,"v":0.5,"h":0.6},{"n":203,"l":0.4,"v":0.5,"h":0.6},{"n":204,"l":0.4,"v":0.5,"h":0.6},{"n":205,"l":0.4,"v":0.5,"h":0.6},{"n":206,"l":0.4,"v":0.5,"h":0.6},{"n":207,"l":0.4,"v":0.5,"h":0.6},{"n":208,"l":0.4,"v":0.5,"h":0.6},{"n":209,"l":0.4,"v":0.5,"h":0.6},{"n":210,"l":0.4,"v":0.5,"h":0.6},{"n":211,"l":0.4,"v":0.5,"h":0.6},{"n":212,"l":0.4,"v":0.5,"h":0.6},{"n":213,"l":0.4,"v":0.5,"h":0.6},{"n":214,"l":0.4,"v":0.5,"h":0.6},{"n":215,"l":0.4,"v":0.5,"h":0.6},{"n":216,"l":0.4,"v":0.5,"h":0.6},{"n":217,"l":0.4,"v":0.5,"h":0.6},{"n":218,"l":0.4,"v":0.5,"h":0.6},{"n":219,"l":0.4,"v":0.5,"h":0.6},{"n":220,"l":0.4,"v":0.5,"h":0.6},{"n":221,"l":0.4,"v":0.5,"h":0.6},{"n":222,"l":0.4,"v":0.5,"h":0.6},{"n":223,"l":0.4,"v":0.5,"h":0.6},{"n":224,"l":0.4,"v":0.5,"h":0.6},{"n":225,"l":0.4,"v":0.5,"h":0.6},{"n":226,"l":0.3,"v":0.4,"h":0.5},{"n":227,"l":0.3,"v":0.4,"h":0.5},{"n":228,"l":0.3,"v":0.4,"h":0.5},{"n":229,"l":0.3,"v":0.4,"h":0.5},{"n":230,"l":0.3,"v":0.4,"h":0.5},{"n":231,"l":0.3,"v":0.4,"h":0.5},{"n":232,"l":0.3,"v":0.4,"h":0.5},{"n":233,"l":0.3,"v":0.4,"h":0.5},{"n":234,"l":0.3,"v":0.4,"h":0.5},{"n":235,"l":0.3,"v":0.4,"h":0.5},{"n":236,"l":0.3,"v":0.4,"h":0.5},{"n":237,"l":0.3,"v":0.4,"h":0.5},{"n":238,"l":0.3,"v":0.4,"h":0.5},{"n":239,"l":0.3,"v":0.4,"h":0.5},{"n":240,"l":0.3,"v":0.4,"h":0.5},{"n":241,"l":0.3,"v":0.4,"h":0.5},{"n":242,"l":0.3,"v":0.4,"h":0.5},{"n":243,"l":0.3,"v":0.4,"h":0.5},{"n":244,"l":0.2,"v":0.3,"h":0.4},{"n":245,"l":0.2,"v":0.3,"h":0.4},{"n":246,"l":0.2,"v":0.3,"h":0.4},{"n":247,"l":0.2,"v":0.3,"h":0.4},{"n":248,"l":0.2,"v":0.3,"h":0.4},{"n":249,"l":0.2,"v":0.3,"h":0.4},{"n":250,"l":0.2,"v":0.3,"h":0.4},{"n":251,"l":0.2,"v":0.3,"h":0.4},{"n":252,"l":0.2,"v":0.3,"h":0.4},{"n":253,"l":0.2,"v":0.3,"h":0.4},{"n":254,"l":0.2,"v":0.3,"h":0.4},{"n":255,"l":0.2,"v":0.3,"h":0.4},{"n":256,"l":0.2,"v":0.3,"h":0.4},{"n":257,"l":0.2,"v":0.3,"h":0.4},{"n":258,"l":0.2,"v":0.3,"h":0.4},{"n":259,"l":0.2,"v":0.3,"h":0.4},{"n":260,"l":0.2,"v":0.3,"h":0.4},{"n":261,"l":0.2,"v":0.3,"h":0.4},{"n":262,"l":0.2,"v":0.3,"h":0.4},{"n":263,"l":0.3,"v":0.4,"h":0.5},{"n":264,"l":0.3,"v":0.4,"h":0.5},{"n":265,"l":0.3,"v":0.4,"h":0.5},{"n":266,"l":0.3,"v":0.4,"h":0.5},{"n":267,"l":0.3,"v":0.4,"h":0.5},{"n":268,"l":0.3,"v":0.4,"h":0.5},{"n":269,"l":0.3,"v":0.4,"h":0.5},{"n":270,"l":0.3,"v":0.4,"h":0.5},{"n":271,"l":0.3,"v":0.4,"h":0.5},{"n":272,"l":0.3,"v":0.4,"h":0.5},{"n":273,"l":0.3,"v":0.4,"h":0.5},{"n":274,"l":0.3,"v":0.4,"h":0.5},{"n":275,"l":0.3,"v":0.4,"h":0.5},{"n":276,"l":0.3,"v":0.4,"h":0.5},{"n":277,"l":0.4,"v":0.5,"h":0.6},{"n":278,"l":0.4,"v":0.5,"h":0.6},{"n":279,"l":0.4,"v":0.5,"h":0.6},{"n":280,"l":0.4,"v":0.5,"h":0.6},{"n":281,"l":0.5,"v":0.6,"h":0.7},{"n":282,"l":0.5,"v":0.6,"h":0.7},{"n":283,"l":0.5,"v":0.6,"h":0.7},{"n":284,"l":0.5,"v":0.6,"h":0.7},{"n":285,"l":0.6,"v":0.7,"h":0.8},{"n":286,"l":0.6,"v":0.7,"h":0.8},{"n":287,"l":0.6,"v":0.7,"h":0.8},{"n":288,"l":0.7,"v":0.8,"h":0.9},{"n":289,"l":0.7,"v":0.8,"h":0.9},{"n":290,"l":0.7,"v":0.8,"h":0.9},{"n":291,"l":0.8,"v":0.9,"h":1.0},{"n":292,"l":0.8,"v":0.9,"h":1.0},{"n":293,"l":0.9,"v":1.0,"h":1.1},{"n":294,"l":0.9,"v":1.0,"h":1.1},{"n":295,"l":1.0,"v":1.1,"h":1.2},{"n":296,"l":1.0,"v":1.1,"h":1.2},{"n":297,"l":1.1,"v":1.2,"h":1.3},{"n":298,"l":1.1,"v":1.2,"h":1.3},{"n":299,"l":1.2,"v":1.3,"h":1.4},{"n":300,"l":1.2,"v":1.3,"h":1.4},{"n":301,"l":1.3,"v":1.4,"h":1.5},{"n":302,"l":1.4,"v":1.5,"h":1.6},{"n":303,"l":1.5,"v":1.6,"h":1.7},{"n":304,"l":1.6,"v":1.7,"h":1.8},{"n":305,"l":1.7,"v":1.8,"h":1.9},{"n":306,"l":1.8,"v":1.9,"h":2.0},{"n":307,"l":1.8,"v":2.0,"h":2.2},{"n":308,"l":1.9,"v":2.1,"h":2.3},{"n":309,"l":2.0,"v":2.2,"h":2.4},{"n":310,"l":2.2,"v":2.4,"h":2.6},{"n":311,"l":2.3,"v":2.5,"h":2.7},{"n":312,"l":2.4,"v":2.6,"h":2.8},{"n":313,"l":2.6,"v":2.8,"h":3.0},{"n":314,"l":2.7,"v":2.9,"h":3.1},{"n":315,"l":2.9,"v":3.1,"h":3.3},{"n":316,"l":3.1,"v":3.3,"h":3.5},{"n":317,"l":3.2,"v":3.4,"h":3.6},{"n":318,"l":3.4,"v":3.6,"h":3.8},{"n":319,"l":3.8,"v":4.0,"h":4.2},{"n":320,"l":4.3,"v":4.5,"h":4.7},{"n":321,"l":4.9,"v":5.1,"h":5.3},{"n":322,"l":5.6,"v":5.8,"h":6.0},{"n":323,"l":6.3,"v":6.5,"h":6.7},{"n":324,"l":7.1,"v":7.3,"h":7.5},{"n":325,"l":8.0,"v":8.2,"h":8.4},{"n":326,"l":8.8,"v":9.0,"h":9.2},{"n":327,"l":9.6,"v":9.8,"h":10.0},{"n":328,"l":10.0,"v":10.3,"h":10.6},{"n":329,"l":10.4,"v":10.7,"h":11.0},{"n":330,"l":13.3,"v":13.6,"h":13.9},{"n":331,"l":16.4,"v":16.7,"h":17.0},{"n":332,"l":20.1,"v":20.4,"h":20.7},{"n":333,"l":23.8,"v":24.1,"h":24.4},{"n":334,"l":26.25,"v":26.7,"h":27.15},{"n":335,"l":27.35,"v":27.8,"h":28.25},{"n":336,"l":28.45,"v":28.9,"h":29.35},{"n":337,"l":31.45,"v":31.9,"h":32.35},{"n":338,"l":33.25,"v":33.7,"h":34.15},{"n":339,"l":34.15,"v":34.6,"h":35.05},{"n":340,"l":36.15,"v":36.6,"h":37.05},{"n":341,"l":34.75,"v":35.2,"h":35.65},{"n":342,"l":38.75,"v":39.2,"h":39.65},{"n":343,"l":38.05,"v":38.5,"h":38.95},{"n":344,"l":37.35,"v":37.8,"h":38.25},{"n":345,"l":38.45,"v":38.9,"h":39.35},{"n":346,"l":36.75,"v":37.2,"h":37.65},{"n":347,"l":35.55,"v":36.0,"h":36.45},{"n":348,"l":34.75,"v":35.2,"h":35.65},{"n":349,"l":34.05,"v":34.5,"h":34.95},{"n":350,"l":33.25,"v":33.7,"h":34.15}]
},
"hconcat":[
{"width":630,"height":380,"data":{"name":"lecco"},"layer":[
{"mark":{"type":"rule","color":"#dcdcdc","strokeWidth":1},"encoding":{"x":{"field":"n","type":"quantitative","title":"Lecco","scale":{"domain":[0.5,350.5],"nice":false,"zero":false},"axis":{"values":[1,13,25,37,49,61,73,85,97,109,121,133,145,157,169,181,193,205,217,229,241,253,265,277,289,301,313,325,337,350],"labelExpr":"datum.value>345?'16/01/2022':timeFormat(datetime(2021,1,datum.value),'%d/%m/%Y')"}}}},
{"data":{"values":[{}]},"mark":{"type":"rule","color":"#d9d9d9","strokeWidth":1},"encoding":{"x":{"datum":0.5,"type":"quantitative"},"y":{"datum":0,"type":"quantitative","title":null,"scale":{"domain":[0,50],"nice":false},"axis":{"values":[0,5,10,15,20,25,30,35,40,45,50]}},"y2":{"datum":-17.5}}},
{"data":{"values":[{}]},"mark":{"type":"rule","color":"#5b9bd5","strokeWidth":1.2},"encoding":{"y":{"datum":32.4,"type":"quantitative","title":null}}},
{"mark":{"type":"line","strokeWidth":2},"encoding":{"x":{"field":"n","type":"quantitative","title":"Lecco"},"y":{"field":"l","type":"quantitative","title":null},"color":{"datum":"Lim Inf IC95%","type":"nominal","scale":{"domain":["Lim Inf IC95%","Tasso x 10.000","Lim Sup IC95%"],"range":["#a5a5a5","#ffc000","#5b9bd5"]},"legend":{"title":null,"orient":"none","legendX":642,"legendY":516,"direction":"horizontal","columns":3,"gridAlign":"all","symbolType":"M-1,0L-0.2,0M0.2,0L1,0","symbolSize":1764,"symbolStrokeWidth":2.5,"labelFontSize":16,"labelColor":"#595959","labelFont":"Liberation Sans","columnPadding":5,"labelOffset":5,"labelLimit":0}}}},
{"mark":{"type":"point","filled":true,"fill":"#ffffff","size":80,"strokeWidth":2,"opacity":1},"encoding":{"x":{"field":"n","type":"quantitative","title":"Lecco"},"y":{"field":"l","type":"quantitative","title":null},"stroke":{"datum":"Lim Inf IC95%\u200b","type":"nominal","scale":{"domain":["Lim Inf IC95%\u200b","Tasso x 10.000\u200b","Lim Sup IC95%\u200b"],"range":["#5b9bd5","#ed7d31","#a5a5a5"]},"legend":{"title":null,"orient":"none","legendX":645,"legendY":516,"direction":"horizontal","columns":3,"gridAlign":"all","symbolType":"M0.2,0A0.2,0.2,0,1,1,-0.2,0A0.2,0.2,0,1,1,0.2,0","symbolSize":1764,"symbolStrokeWidth":2,"symbolFillColor":"#ffffff","labelExpr":"''","labelFontSize":16,"labelFont":"Liberation Sans","columnPadding":125,"labelOffset":5,"labelLimit":0}}}},
{"mark":{"type":"line","strokeWidth":2},"encoding":{"x":{"field":"n","type":"quantitative","title":"Lecco"},"y":{"field":"v","type":"quantitative","title":null},"color":{"datum":"Tasso x 10.000","type":"nominal"}}},
{"mark":{"type":"point","filled":true,"fill":"#ffffff","size":80,"strokeWidth":2,"opacity":1},"encoding":{"x":{"field":"n","type":"quantitative","title":"Lecco"},"y":{"field":"v","type":"quantitative","title":null},"stroke":{"datum":"Tasso x 10.000\u200b","type":"nominal"}}},
{"mark":{"type":"line","strokeWidth":2},"encoding":{"x":{"field":"n","type":"quantitative","title":"Lecco"},"y":{"field":"h","type":"quantitative","title":null},"color":{"datum":"Lim Sup IC95%","type":"nominal"}}},
{"mark":{"type":"point","filled":true,"fill":"#ffffff","size":80,"strokeWidth":2,"opacity":1},"encoding":{"x":{"field":"n","type":"quantitative","title":"Lecco"},"y":{"field":"h","type":"quantitative","title":null},"stroke":{"datum":"Lim Sup IC95%\u200b","type":"nominal"}}}
]},
{"width":630,"height":380,"data":{"name":"monza"},"layer":[
{"mark":{"type":"rule","color":"#dcdcdc","strokeWidth":1},"encoding":{"x":{"field":"n","type":"quantitative","title":"Monza e Brianza","scale":{"domain":[0.5,350.5],"nice":false,"zero":false},"axis":{"values":[10,22,34,46,58,70,82,94,106,118,130,142,154,166,178,190,202,214,226,238,250,262,274,286,298,310,322,334,346.5],"labelExpr":"datum.value>345?'16/01/2022':timeFormat(datetime(2021,1,datum.value),'%d/%m/%Y')"}}}},
{"data":{"values":[{}]},"mark":{"type":"rule","color":"#d9d9d9","strokeWidth":1},"encoding":{"x":{"datum":0.5,"type":"quantitative"},"y":{"datum":0,"type":"quantitative","title":null,"scale":{"domain":[0,50],"nice":false},"axis":{"values":[0,5,10,15,20,25,30,35,40,45,50],"labels":false}},"y2":{"datum":-17.5}}},
{"data":{"values":[{}]},"mark":{"type":"rule","color":"#5b9bd5","strokeWidth":1.2},"encoding":{"y":{"datum":32.4,"type":"quantitative","title":null}}},
{"mark":{"type":"line","strokeWidth":2},"encoding":{"x":{"field":"n","type":"quantitative","title":"Monza e Brianza"},"y":{"field":"l","type":"quantitative","title":null},"color":{"datum":"Lim Inf IC95%","type":"nominal"}}},
{"mark":{"type":"point","filled":true,"fill":"#ffffff","size":80,"strokeWidth":2,"opacity":1},"encoding":{"x":{"field":"n","type":"quantitative","title":"Monza e Brianza"},"y":{"field":"l","type":"quantitative","title":null},"stroke":{"datum":"Lim Inf IC95%\u200b","type":"nominal"}}},
{"mark":{"type":"line","strokeWidth":2},"encoding":{"x":{"field":"n","type":"quantitative","title":"Monza e Brianza"},"y":{"field":"v","type":"quantitative","title":null},"color":{"datum":"Tasso x 10.000","type":"nominal"}}},
{"mark":{"type":"point","filled":true,"fill":"#ffffff","size":80,"strokeWidth":2,"opacity":1},"encoding":{"x":{"field":"n","type":"quantitative","title":"Monza e Brianza"},"y":{"field":"v","type":"quantitative","title":null},"stroke":{"datum":"Tasso x 10.000\u200b","type":"nominal"}}},
{"mark":{"type":"line","strokeWidth":2},"encoding":{"x":{"field":"n","type":"quantitative","title":"Monza e Brianza"},"y":{"field":"h","type":"quantitative","title":null},"color":{"datum":"Lim Sup IC95%","type":"nominal"}}},
{"mark":{"type":"point","filled":true,"fill":"#ffffff","size":80,"strokeWidth":2,"opacity":1},"encoding":{"x":{"field":"n","type":"quantitative","title":"Monza e Brianza"},"y":{"field":"h","type":"quantitative","title":null},"stroke":{"datum":"Lim Sup IC95%\u200b","type":"nominal"}}},
{"data":{"values":[{}]},"mark":{"type":"rule","color":"#ff0000","strokeWidth":2},"encoding":{"x":{"datum":0.5,"type":"quantitative"},"y":{"datum":50,"type":"quantitative","title":null},"y2":{"datum":0.9}}}
]},
{"width":630,"height":380,"data":{"name":"lomb"},"layer":[
{"mark":{"type":"rule","color":"#dcdcdc","strokeWidth":1},"encoding":{"x":{"field":"n","type":"quantitative","title":"Lombardia","scale":{"domain":[0.5,350.5],"nice":false,"zero":false},"axis":{"values":[7,19,31,43,55,67,79,91,103,115,127,139,151,163,175,187,199,211,223,235,247,259,271,283,295,307,319,331,346.5],"labelExpr":"datum.value>345?'16/01/2022':timeFormat(datetime(2021,1,datum.value),'%d/%m/%Y')"}}}},
{"data":{"values":[{"p":0.5},{"p":350.5}]},"mark":{"type":"rule","color":"#d9d9d9","strokeWidth":1},"encoding":{"x":{"field":"p","type":"quantitative","title":"Lombardia"},"y":{"datum":0,"type":"quantitative","title":null,"scale":{"domain":[0,50],"nice":false},"axis":{"values":[0,5,10,15,20,25,30,35,40,45,50],"labels":false}},"y2":{"datum":-17.5}}},
{"data":{"values":[{}]},"mark":{"type":"rule","color":"#5b9bd5","strokeWidth":1.2},"encoding":{"y":{"datum":32.4,"type":"quantitative","title":null}}},
{"mark":{"type":"line","strokeWidth":2},"encoding":{"x":{"field":"n","type":"quantitative","title":"Lombardia"},"y":{"field":"l","type":"quantitative","title":null},"color":{"datum":"Lim Inf IC95%","type":"nominal"}}},
{"mark":{"type":"point","filled":true,"fill":"#ffffff","size":80,"strokeWidth":2,"opacity":1},"encoding":{"x":{"field":"n","type":"quantitative","title":"Lombardia"},"y":{"field":"l","type":"quantitative","title":null},"stroke":{"datum":"Lim Inf IC95%\u200b","type":"nominal"}}},
{"mark":{"type":"line","strokeWidth":2},"encoding":{"x":{"field":"n","type":"quantitative","title":"Lombardia"},"y":{"field":"v","type":"quantitative","title":null},"color":{"datum":"Tasso x 10.000","type":"nominal"}}},
{"mark":{"type":"point","filled":true,"fill":"#ffffff","size":80,"strokeWidth":2,"opacity":1},"encoding":{"x":{"field":"n","type":"quantitative","title":"Lombardia"},"y":{"field":"v","type":"quantitative","title":null},"stroke":{"datum":"Tasso x 10.000\u200b","type":"nominal"}}},
{"mark":{"type":"line","strokeWidth":2},"encoding":{"x":{"field":"n","type":"quantitative","title":"Lombardia"},"y":{"field":"h","type":"quantitative","title":null},"color":{"datum":"Lim Sup IC95%","type":"nominal"}}},
{"mark":{"type":"point","filled":true,"fill":"#ffffff","size":80,"strokeWidth":2,"opacity":1},"encoding":{"x":{"field":"n","type":"quantitative","title":"Lombardia"},"y":{"field":"h","type":"quantitative","title":null},"stroke":{"datum":"Lim Sup IC95%\u200b","type":"nominal"}}},
{"data":{"values":[{}]},"mark":{"type":"rule","color":"#ff0000","strokeWidth":2},"encoding":{"x":{"datum":0.5,"type":"quantitative"},"y":{"datum":50,"type":"quantitative","title":null},"y2":{"datum":1.0}}}
]}
],
"config":{
"view":{"stroke":null},
"font":"Liberation Sans",
"axis":{"labelFont":"Liberation Sans","titleFont":"Liberation Sans","labelColor":"#595959","titleColor":"#595959"},
"axisX":{"labelAngle":270,"labelAlign":"right","labelBaseline":"middle","labelFontSize":16,"labelFontWeight":"bold","labelPadding":11,"labelOverlap":false,"labelBound":false,"labelFlush":false,"ticks":false,"grid":false,"domainColor":"#d9d9d9","titleFontSize":15,"titleFontWeight":"bold","titlePadding":18},
"axisY":{"grid":true,"gridColor":"#d0d0d0","domain":false,"ticks":false,"labelFontSize":17,"labelPadding":18}
}
}
